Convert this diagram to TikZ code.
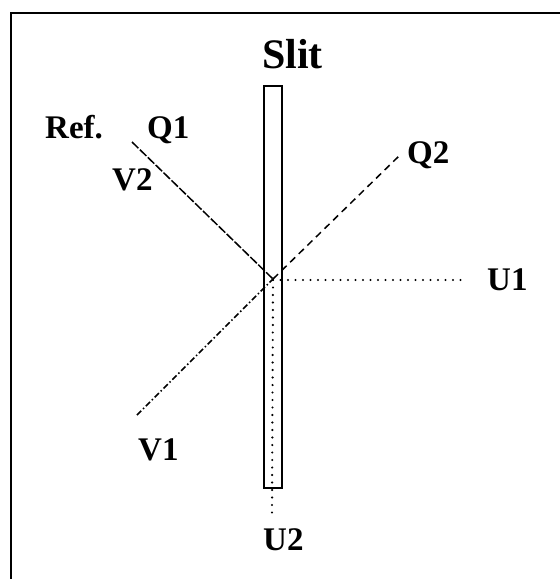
\documentclass[tikz,border=0pt]{standalone}
\usepackage{fontspec}
\setmainfont{Liberation Serif}
\begin{document}
\begin{tikzpicture}[x=1pt,y=-1pt,
  lbl/.style={font=\fontsize{33}{33}\selectfont\bfseries, inner sep=0pt, anchor=base west},
  ln/.style={line width=1.5pt},
  dotl/.style={ln, line cap=round, dash pattern=on 0pt off 7.5pt, line width=2.4pt},
  dashl/.style={ln, dash pattern=on 7pt off 5pt},
  dashdotl/.style={ln, dash pattern=on 6pt off 2.5pt on 1.5pt off 2.5pt},
  refl/.style={ln, dash pattern=on 9pt off 2pt}]
\useasboundingbox (0,0) rectangle (560,579);
\draw[line width=1.8pt] (11,579) -- (11,13) -- (560,13);
% slit
\node[draw, line width=1.7pt, minimum width=18pt, minimum height=402pt, inner sep=0pt, anchor=north west] (slit) at (263,85) {};
\coordinate (c) at (273,279);
\coordinate (q1e) at (132,142);
\coordinate (v1e) at (137,415);
\coordinate (q2e) at (399,156);
\coordinate (u1e) at (463,280);
\coordinate (u2e) at (272,514);
\coordinate (c1) at (273,280);
\draw[refl] (q1e) -- (c);
\draw[dashdotl] (v1e) -- (c);
\draw[dashl] (c) -- (q2e);
\draw[dotl] (c1) -- (u1e);
\draw[dotl] (c1) -- (u2e);
% labels
\node[lbl, font=\fontsize{42}{42}\selectfont\bfseries] (slitlbl) at (262,68) {Slit};
\node[lbl] (ref) at (45,138) {Ref.};
\node[lbl] (q1) at (147,138) {Q1};
\node[lbl] (v2) at (112,190) {V2};
\node[lbl] (q2) at (407,163) {Q2};
\node[lbl] (u1) at (487,290) {U1};
\node[lbl] (v1) at (138,460) {V1};
\node[lbl] (u2) at (263,550) {U2};
\end{tikzpicture}
\end{document}
